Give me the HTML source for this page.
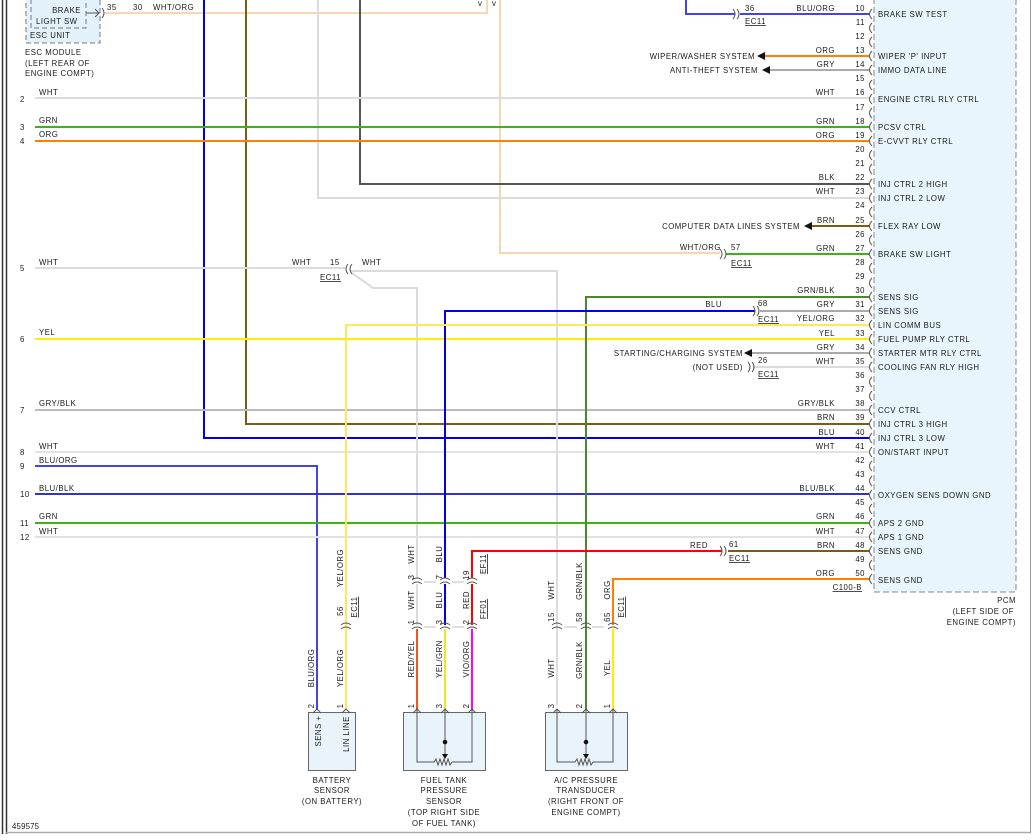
<!DOCTYPE html>
<html><head><meta charset="utf-8"><style>
html,body{margin:0;padding:0;background:#fff;}
svg{display:block;}
text{font-family:"Liberation Sans",sans-serif;font-size:7.8px;fill:#1a1a1a;letter-spacing:0.5px;}
.e{text-anchor:end}.m{text-anchor:middle}
.c{fill:none;stroke:#555;stroke-width:1}
.w{fill:none;stroke-width:2}
</style></head><body>
<svg width="1034" height="840" viewBox="0 0 1034 840" xmlns="http://www.w3.org/2000/svg">
<!-- borders -->
<line x1="2.5" y1="0" x2="2.5" y2="834" stroke="#333" stroke-width="1.5"/>
<line x1="6.5" y1="0" x2="6.5" y2="834" stroke="#333" stroke-width="1.5"/>
<line x1="6" y1="832.5" x2="1031" y2="832.5" stroke="#aaa" stroke-width="1.5"/>
<line x1="1030.5" y1="0" x2="1030.5" y2="833" stroke="#999" stroke-width="1"/>
<text x="12" y="829" style="letter-spacing:0.2px">459575</text>

<!-- PCM box -->
<rect x="874" y="-3" width="142" height="595" fill="#e8f5fc" stroke="#888" stroke-dasharray="6,3"/>

<!-- ESC module -->
<rect x="26" y="-6" width="74" height="49" fill="#e3f2fa" stroke="#777" stroke-dasharray="5,3"/>
<rect x="31" y="-6" width="55" height="34" fill="#e3f2fa" stroke="#777" stroke-dasharray="5,3"/>
<text x="81" y="13" class="e">BRAKE</text>
<text x="36" y="24">LIGHT SW</text>
<text x="30" y="38">ESC UNIT</text>
<text x="25" y="55">ESC MODULE</text>
<text x="25" y="66">(LEFT REAR OF</text>
<text x="25" y="76">ENGINE COMPT)</text>
<path d="M86,13 H99 M95,9 L99,13 L95,17" class="c"/>
<path d="M102,8 q4,5 0,10" class="c"/>
<text x="107" y="10">35</text><text x="133" y="10">30</text><text x="153" y="10">WHT/ORG</text>
<text x="478" y="6" font-size="6">v</text><text x="492" y="6" font-size="6">v</text>

<!-- long vertical wires from top -->
<polyline points="105,13 487,13 487,0" class="w" stroke="#f5d6b5"/>
<polyline points="500,0 500,253 720,253" class="w" stroke="#f5d6b5"/>
<polyline points="204,0 204,438 869,438" class="w" stroke="#0000ee"/>
<polyline points="246,0 246,424 869,424" class="w" stroke="#7a5c12"/>
<polyline points="318,0 318,198 869,198" class="w" stroke="#dcdcdc"/>
<polyline points="360,0 360,184 869,184" class="w" stroke="#555"/>
<polyline points="686,0 686,14 735,14" class="w" stroke="#4444ee"/>
<line x1="740" y1="14" x2="869" y2="14" class="w" stroke="#4444ee"/>

<!-- left-origin horizontals -->
<line x1="35" y1="98" x2="869" y2="98" class="w" stroke="#dcdcdc"/>
<line x1="35" y1="127" x2="869" y2="127" class="w" stroke="#3cb414"/>
<line x1="35" y1="141" x2="869" y2="141" class="w" stroke="#ff8000"/>
<line x1="35" y1="268" x2="345" y2="268" class="w" stroke="#dcdcdc"/>
<polyline points="350,271 557,271 557,705" class="w" stroke="#dcdcdc"/>
<polyline points="352,273 373,288 417,288 417,578" class="w" stroke="#dcdcdc" stroke-width="1.5"/>
<line x1="35" y1="339" x2="869" y2="339" class="w" stroke="#ffee00"/>
<line x1="35" y1="410" x2="869" y2="410" class="w" stroke="#bbb"/>
<line x1="35" y1="452" x2="869" y2="452" class="w" stroke="#e2e2e2"/>
<polyline points="35,466 317,466 317,710" class="w" stroke="#4444ee"/>
<line x1="35" y1="494" x2="869" y2="494" class="w" stroke="#3333cc"/>
<line x1="35" y1="523" x2="869" y2="523" class="w" stroke="#3cb414"/>
<line x1="35" y1="537" x2="869" y2="537" class="w" stroke="#e2e2e2"/>

<!-- other wires -->
<line x1="765" y1="56" x2="869" y2="56" class="w" stroke="#ff8000"/>
<line x1="770" y1="70" x2="869" y2="70" class="w" stroke="#aaa"/>
<line x1="812" y1="226" x2="869" y2="226" class="w" stroke="#7a5c12"/>
<line x1="726" y1="254" x2="869" y2="254" class="w" stroke="#3cb414"/>
<polyline points="586,710 586,297 869,297" class="w" stroke="#4a8a2a"/>
<polyline points="445,578 445,311 755,311" class="w" stroke="#0000ee"/>
<line x1="760" y1="311" x2="869" y2="311" class="w" stroke="#aaa"/>
<polyline points="346,710 346,325 869,325" class="w" stroke="#ffe85a"/>
<line x1="752" y1="353" x2="869" y2="353" class="w" stroke="#aaa"/>
<line x1="753" y1="367" x2="869" y2="367" class="w" stroke="#dcdcdc"/>
<polyline points="472,578 472,551 722,551" class="w" stroke="#ff0000"/>
<line x1="728" y1="551" x2="869" y2="551" class="w" stroke="#7a5c12"/>
<polyline points="613,625 613,579 869,579" class="w" stroke="#ff8000"/>

<!-- bottom vertical segments -->
<line x1="417" y1="584" x2="417" y2="625" class="w" stroke="#dcdcdc"/>
<line x1="445" y1="584" x2="445" y2="625" class="w" stroke="#0000ee"/>
<line x1="472" y1="584" x2="472" y2="625" class="w" stroke="#ff0000"/>
<line x1="417" y1="629" x2="417" y2="710" class="w" stroke="#ee5522"/>
<line x1="445" y1="629" x2="445" y2="710" class="w" stroke="#e8e820"/>
<line x1="472" y1="629" x2="472" y2="710" class="w" stroke="#ff00ff"/>
<line x1="613" y1="629" x2="613" y2="710" class="w" stroke="#ffee00"/>

<!-- arrows to systems -->
<polygon points="757,56 765,52 765,60" fill="#111"/>
<polygon points="762,70 770,66 770,74" fill="#111"/>
<polygon points="804,226 812,222 812,230" fill="#111"/>
<polygon points="744,353 752,349 752,357" fill="#111"/>
<text x="755" y="59" class="e">WIPER/WASHER SYSTEM</text>
<text x="758" y="73" class="e">ANTI-THEFT SYSTEM</text>
<text x="800" y="229" class="e">COMPUTER DATA LINES SYSTEM</text>
<text x="743" y="356" class="e">STARTING/CHARGING SYSTEM</text>
<text x="743" y="370" class="e">(NOT USED)</text>

<!-- inline connectors -->
<path d="M733,9 q4,5 0,10 M737,9 q4,5 0,10" class="c"/>
<text x="745" y="11">36</text><text x="745" y="24" text-decoration="underline">EC11</text>
<path d="M720,249 q4,5 0,10 M724,249 q4,5 0,10" class="c"/>
<text x="731" y="250">57</text><text x="731" y="266" text-decoration="underline">EC11</text>
<path d="M753,306 q4,5 0,10 M757,306 q4,5 0,10" class="c"/>
<text x="758" y="306">68</text><text x="758" y="322" text-decoration="underline">EC11</text>
<path d="M748,362 q4,5 0,10 M752,362 q4,5 0,10" class="c"/>
<text x="758" y="363">26</text><text x="758" y="377" text-decoration="underline">EC11</text>
<path d="M720,546 q4,5 0,10 M724,546 q4,5 0,10" class="c"/>
<text x="729" y="547">61</text><text x="729" y="561" text-decoration="underline">EC11</text>
<path d="M348,264 q-4,5 0,10 M352,264 q-4,5 0,10" class="c"/>
<text x="292" y="265">WHT</text><text x="330" y="265">15</text><text x="362" y="265">WHT</text>
<text x="320" y="280" text-decoration="underline">EC11</text>
<text x="862" y="590" class="e" text-decoration="underline">C100-B</text>
<text x="1016" y="603" class="e">PCM</text>
<text x="1014" y="614" class="e">(LEFT SIDE OF</text>
<text x="1016" y="625" class="e">ENGINE COMPT)</text>

<!-- PCM pins -->
<g>
<text x="865" y="11" class="e">10</text><text x="865" y="25" class="e">11</text><text x="865" y="39" class="e">12</text><text x="865" y="53" class="e">13</text><text x="865" y="67" class="e">14</text><text x="865" y="81" class="e">15</text><text x="865" y="95" class="e">16</text><text x="865" y="110" class="e">17</text><text x="865" y="124" class="e">18</text><text x="865" y="138" class="e">19</text><text x="865" y="152" class="e">20</text><text x="865" y="166" class="e">21</text><text x="865" y="180" class="e">22</text><text x="865" y="194" class="e">23</text><text x="865" y="208" class="e">24</text><text x="865" y="223" class="e">25</text><text x="865" y="237" class="e">26</text><text x="865" y="251" class="e">27</text><text x="865" y="265" class="e">28</text><text x="865" y="279" class="e">29</text><text x="865" y="293" class="e">30</text><text x="865" y="307" class="e">31</text><text x="865" y="321" class="e">32</text><text x="865" y="336" class="e">33</text><text x="865" y="350" class="e">34</text><text x="865" y="364" class="e">35</text><text x="865" y="378" class="e">36</text><text x="865" y="392" class="e">37</text><text x="865" y="406" class="e">38</text><text x="865" y="420" class="e">39</text><text x="865" y="435" class="e">40</text><text x="865" y="449" class="e">41</text><text x="865" y="463" class="e">42</text><text x="865" y="477" class="e">43</text><text x="865" y="491" class="e">44</text><text x="865" y="505" class="e">45</text><text x="865" y="519" class="e">46</text><text x="865" y="534" class="e">47</text><text x="865" y="548" class="e">48</text><text x="865" y="562" class="e">49</text><text x="865" y="576" class="e">50</text>
</g>
<path class="c" stroke="#666" d="M872,9 q-5,5 0,10 M872,23 q-5,5 0,10 M872,37 q-5,5 0,10 M872,51 q-5,5 0,10 M872,65 q-5,5 0,10 M872,80 q-5,5 0,10 M872,94 q-5,5 0,10 M872,108 q-5,5 0,10 M872,122 q-5,5 0,10 M872,136 q-5,5 0,10 M872,150 q-5,5 0,10 M872,164 q-5,5 0,10 M872,179 q-5,5 0,10 M872,193 q-5,5 0,10 M872,207 q-5,5 0,10 M872,221 q-5,5 0,10 M872,235 q-5,5 0,10 M872,249 q-5,5 0,10 M872,263 q-5,5 0,10 M872,278 q-5,5 0,10 M872,292 q-5,5 0,10 M872,306 q-5,5 0,10 M872,320 q-5,5 0,10 M872,334 q-5,5 0,10 M872,348 q-5,5 0,10 M872,362 q-5,5 0,10 M872,377 q-5,5 0,10 M872,391 q-5,5 0,10 M872,405 q-5,5 0,10 M872,419 q-5,5 0,10 M872,433 q-5,5 0,10 M872,447 q-5,5 0,10 M872,461 q-5,5 0,10 M872,476 q-5,5 0,10 M872,490 q-5,5 0,10 M872,504 q-5,5 0,10 M872,518 q-5,5 0,10 M872,532 q-5,5 0,10 M872,546 q-5,5 0,10 M872,560 q-5,5 0,10 M872,574 q-5,5 0,10"/>
<g>
<text x="878" y="17">BRAKE SW TEST</text>
<text x="878" y="59">WIPER 'P' INPUT</text>
<text x="878" y="73">IMMO DATA LINE</text>
<text x="878" y="102">ENGINE CTRL RLY CTRL</text>
<text x="878" y="130">PCSV CTRL</text>
<text x="878" y="144">E-CVVT RLY CTRL</text>
<text x="878" y="187">INJ CTRL 2 HIGH</text>
<text x="878" y="201">INJ CTRL 2 LOW</text>
<text x="878" y="229">FLEX RAY LOW</text>
<text x="878" y="257">BRAKE SW LIGHT</text>
<text x="878" y="300">SENS SIG</text>
<text x="878" y="314">SENS SIG</text>
<text x="878" y="328">LIN COMM BUS</text>
<text x="878" y="342">FUEL PUMP RLY CTRL</text>
<text x="878" y="356">STARTER MTR RLY CTRL</text>
<text x="878" y="370">COOLING FAN RLY HIGH</text>
<text x="878" y="413">CCV CTRL</text>
<text x="878" y="427">INJ CTRL 3 HIGH</text>
<text x="878" y="441">INJ CTRL 3 LOW</text>
<text x="878" y="455">ON/START INPUT</text>
<text x="878" y="498">OXYGEN SENS DOWN GND</text>
<text x="878" y="526">APS 2 GND</text>
<text x="878" y="540">APS 1 GND</text>
<text x="878" y="554">SENS GND</text>
<text x="878" y="583">SENS GND</text>
</g>
<!-- wire color labels near PCM -->
<g>
<text x="835" y="11" class="e">BLU/ORG</text>
<text x="835" y="53" class="e">ORG</text>
<text x="835" y="67" class="e">GRY</text>
<text x="835" y="95" class="e">WHT</text>
<text x="835" y="124" class="e">GRN</text>
<text x="835" y="138" class="e">ORG</text>
<text x="835" y="180" class="e">BLK</text>
<text x="835" y="194" class="e">WHT</text>
<text x="835" y="223" class="e">BRN</text>
<text x="835" y="251" class="e">GRN</text>
<text x="835" y="293" class="e">GRN/BLK</text>
<text x="835" y="307" class="e">GRY</text>
<text x="835" y="321" class="e">YEL/ORG</text>
<text x="835" y="336" class="e">YEL</text>
<text x="835" y="350" class="e">GRY</text>
<text x="835" y="364" class="e">WHT</text>
<text x="835" y="406" class="e">GRY/BLK</text>
<text x="835" y="420" class="e">BRN</text>
<text x="835" y="435" class="e">BLU</text>
<text x="835" y="449" class="e">WHT</text>
<text x="835" y="491" class="e">BLU/BLK</text>
<text x="835" y="519" class="e">GRN</text>
<text x="835" y="534" class="e">WHT</text>
<text x="835" y="548" class="e">BRN</text>
<text x="835" y="576" class="e">ORG</text>
<text x="721" y="250" class="e">WHT/ORG</text>
<text x="722" y="307" class="e">BLU</text>
<text x="708" y="548" class="e">RED</text>
</g>
<!-- left labels -->
<text x="20" y="102">2</text><text x="39" y="95">WHT</text>
<text x="20" y="130">3</text><text x="39" y="123">GRN</text>
<text x="20" y="144">4</text><text x="39" y="137">ORG</text>
<text x="20" y="271">5</text><text x="39" y="265">WHT</text>
<text x="20" y="342">6</text><text x="39" y="335">YEL</text>
<text x="20" y="413">7</text><text x="39" y="406">GRY/BLK</text>
<text x="20" y="455">8</text><text x="39" y="449">WHT</text>
<text x="20" y="469">9</text><text x="39" y="463">BLU/ORG</text>
<text x="20" y="497">10</text><text x="39" y="491">BLU/BLK</text>
<text x="20" y="526">11</text><text x="39" y="519">GRN</text>
<text x="20" y="540">12</text><text x="39" y="534">WHT</text>

<!-- vertical connectors at bottom -->
<path class="c" d="M412,580 q5,-4 10,0 M412,584 q5,-4 10,0 M440,580 q5,-4 10,0 M440,584 q5,-4 10,0 M467,580 q5,-4 10,0 M467,584 q5,-4 10,0
M412,625 q5,-4 10,0 M412,629 q5,-4 10,0 M440,625 q5,-4 10,0 M440,629 q5,-4 10,0 M467,625 q5,-4 10,0 M467,629 q5,-4 10,0
M341,625 q5,-4 10,0 M341,629 q5,-4 10,0
M552,625 q5,-4 10,0 M552,629 q5,-4 10,0 M581,625 q5,-4 10,0 M581,629 q5,-4 10,0 M608,625 q5,-4 10,0 M608,629 q5,-4 10,0"/>
<path stroke="#aaa" stroke-width="0.8" d="M424,582 H436 M452,582 H464 M424,627 H436 M452,627 H464 M564,627 H577 M592,627 H604"/>

<!-- rotated labels -->
<g>
<text transform="translate(414,554) rotate(-90)" class="m">WHT</text>
<text transform="translate(414,577) rotate(-90)" class="m">3</text>
<text transform="translate(442,554) rotate(-90)" class="m">BLU</text>
<text transform="translate(442,577) rotate(-90)" class="m">7</text>
<text transform="translate(469,575) rotate(-90)" class="m">19</text>
<text transform="translate(486,564) rotate(-90)" class="m" text-decoration="underline">EF11</text>
<text transform="translate(414,622) rotate(-90)" class="m">1</text>
<text transform="translate(414,600) rotate(-90)" class="m">WHT</text>
<text transform="translate(442,622) rotate(-90)" class="m">3</text>
<text transform="translate(442,600) rotate(-90)" class="m">BLU</text>
<text transform="translate(469,622) rotate(-90)" class="m">2</text>
<text transform="translate(469,600) rotate(-90)" class="m">RED</text>
<text transform="translate(486,609) rotate(-90)" class="m" text-decoration="underline">FF01</text>
<text transform="translate(414,659) rotate(-90)" class="m">RED/YEL</text>
<text transform="translate(442,659) rotate(-90)" class="m">YEL/GRN</text>
<text transform="translate(469,659) rotate(-90)" class="m">VIO/ORG</text>
<text transform="translate(414,706) rotate(-90)" class="m">1</text>
<text transform="translate(442,706) rotate(-90)" class="m">3</text>
<text transform="translate(469,706) rotate(-90)" class="m">2</text>

<text transform="translate(343,568) rotate(-90)" class="m">YEL/ORG</text>
<text transform="translate(343,611) rotate(-90)" class="m">56</text>
<text transform="translate(357,607) rotate(-90)" class="m" text-decoration="underline">EC11</text>
<text transform="translate(343,668) rotate(-90)" class="m">YEL/ORG</text>
<text transform="translate(314,668) rotate(-90)" class="m">BLU/ORG</text>
<text transform="translate(314,706) rotate(-90)" class="m">2</text>
<text transform="translate(343,706) rotate(-90)" class="m">1</text>

<text transform="translate(554,590) rotate(-90)" class="m">WHT</text>
<text transform="translate(554,617) rotate(-90)" class="m">15</text>
<text transform="translate(582,581) rotate(-90)" class="m">GRN/BLK</text>
<text transform="translate(582,617) rotate(-90)" class="m">58</text>
<text transform="translate(610,590) rotate(-90)" class="m">ORG</text>
<text transform="translate(610,617) rotate(-90)" class="m">65</text>
<text transform="translate(624,607) rotate(-90)" class="m" text-decoration="underline">EC11</text>
<text transform="translate(554,668) rotate(-90)" class="m">WHT</text>
<text transform="translate(582,660) rotate(-90)" class="m">GRN/BLK</text>
<text transform="translate(610,668) rotate(-90)" class="m">YEL</text>
<text transform="translate(554,706) rotate(-90)" class="m">3</text>
<text transform="translate(582,706) rotate(-90)" class="m">2</text>
<text transform="translate(610,706) rotate(-90)" class="m">1</text>
</g>

<!-- battery sensor -->
<rect x="308.5" y="712.5" width="47" height="58" fill="#e8f4fa" stroke="#666"/>
<path class="c" d="M313,713 l4,-4 4,4 M342,713 l4,-4 4,4"/>
<text transform="translate(321,731) rotate(-90)" class="m">SENS +</text>
<text transform="translate(349,734) rotate(-90)" class="m">LIN LINE</text>
<text x="332" y="783" class="m">BATTERY</text>
<text x="332" y="793" class="m">SENSOR</text>
<text x="332" y="804" class="m">(ON BATTERY)</text>

<!-- fuel tank sensor -->
<rect x="403.5" y="712.5" width="82" height="58" fill="#e8f4fa" stroke="#666"/>
<path class="c" d="M413,713 l4,-4 4,4 M441,713 l4,-4 4,4 M468,713 l4,-4 4,4"/>
<path fill="none" stroke="#555" d="M417,710 V762 H434 l2,-3 2,6 2,-6 2,6 2,-6 2,6 2,-6 2,6 2,-3 H472 V710 M445,710 V755"/>
<polygon points="442,754 448,754 445,759" fill="#111"/><circle cx="445" cy="742" r="2.3" fill="#111"/>
<text x="444" y="783" class="m">FUEL TANK</text>
<text x="444" y="793" class="m">PRESSURE</text>
<text x="444" y="804" class="m">SENSOR</text>
<text x="444" y="815" class="m">(TOP RIGHT SIDE</text>
<text x="444" y="826" class="m">OF FUEL TANK)</text>

<!-- A/C transducer -->
<rect x="545.5" y="712.5" width="82" height="58" fill="#e8f4fa" stroke="#666"/>
<path class="c" d="M553,713 l4,-4 4,4 M582,713 l4,-4 4,4 M609,713 l4,-4 4,4"/>
<path fill="none" stroke="#555" d="M557,710 V762 H575 l2,-3 2,6 2,-6 2,6 2,-6 2,6 2,-6 2,6 2,-3 H613 V710 M586,710 V755"/>
<polygon points="583,754 589,754 586,759" fill="#111"/><circle cx="586" cy="742" r="2.3" fill="#111"/>
<text x="586" y="783" class="m">A/C PRESSURE</text>
<text x="586" y="793" class="m">TRANSDUCER</text>
<text x="586" y="804" class="m">(RIGHT FRONT OF</text>
<text x="586" y="815" class="m">ENGINE COMPT)</text>
</svg>
</body></html>
